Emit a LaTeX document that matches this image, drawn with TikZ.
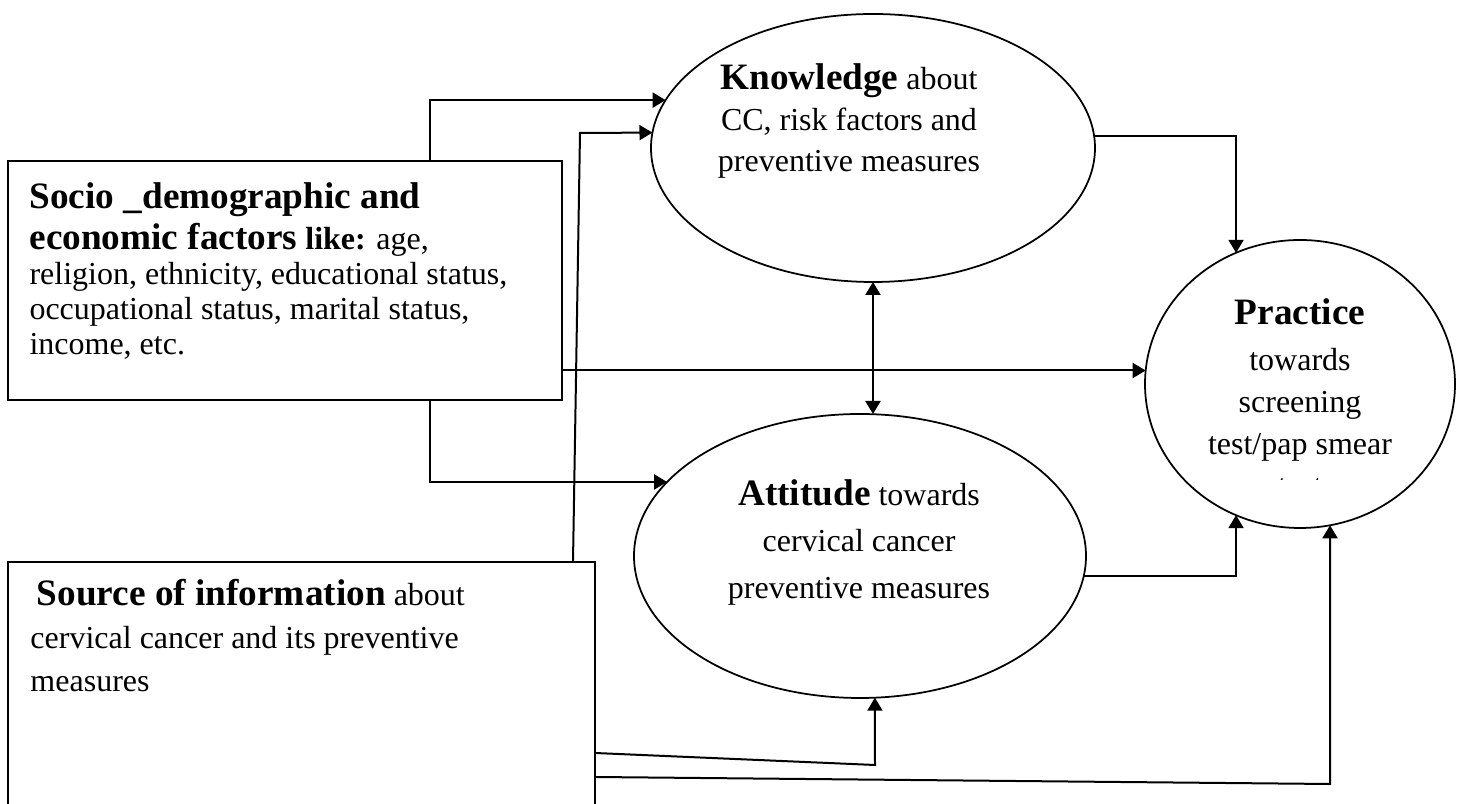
\documentclass[tikz,border=0pt]{standalone}
\usepackage{fontspec}
\setmainfont{Liberation Serif}
\usepackage{tikz}
\usetikzlibrary{shapes.geometric, arrows.meta, calc}
\newcommand\hd[1]{{\fontsize{14.9}{16}\selectfont\bfseries #1}}

\begin{document}
\begin{tikzpicture}[
  x=0.4pt, y=-0.4pt,
  oval/.style={ellipse, draw, line width=0.7pt, inner sep=0pt, outer sep=0pt},
  factor/.style={rectangle, draw, line width=0.8pt, inner sep=0pt, outer sep=0pt},
  txt/.style={font=\fontsize{12.8}{#1}\selectfont, inner sep=0pt},
  link/.style={-{Triangle[length=5.2pt, width=6pt]}, line width=0.8pt},
  twoway/.style={{Triangle[length=5.2pt, width=6pt]}-{Triangle[length=5.2pt, width=6pt]}, line width=0.8pt},
]
  \path[use as bounding box, clip] (0,0) rectangle (1462,804);

  % Factors
  \node[factor, minimum width=221.6pt, minimum height=95.6pt] (socio) at (285,280.5) {};
  \node[factor, minimum width=234.8pt, minimum height=107.2pt] (src) at (301.5,696) {};
  \node[txt=14, anchor=west, align=left] (socio text) at (29,271)
    {\hd{Socio \_demographic and}\\[2.4pt]
     \hd{economic factors} \textbf{like:} age,\\
     religion, ethnicity, educational status,\\
     occupational status, marital status,\\
     income, etc.};
  \node[txt=17.2, anchor=west, align=left] (src text) at (30,636)
    {\hspace*{2.5pt}\hd{Source of information} about\\
     cervical cancer and its preventive\\
     measures};

  % Outcomes
  \node[oval, minimum width=177.6pt, minimum height=107.2pt] (know) at (873,148) {};
  \node[oval, minimum width=180.8pt, minimum height=113.6pt] (att) at (860,556) {};
  \node[oval, minimum width=124pt, minimum height=115.2pt] (prac) at (1300,384) {};
  \node[txt=16.4, align=center] (know text) at (849,121)
    {\hd{Knowledge} about\\ CC, risk factors and\\ preventive measures};
  \node[txt=18.6, align=center] (att text) at (859,542)
    {\hd{Attitude} towards\\ cervical cancer\\ preventive measures};
  \node[txt=16.8, align=center] (prac text) at (1300,380)
    {\hd{Practice}\\[1.6pt] towards\\ screening\\ test/pap smear};
  \begin{scope}
    \clip (1150,440) rectangle (1450,480);
    \node[txt=16.8, anchor=base] (prac cut) at (1300,497) {test};
  \end{scope}

  % Bends
  \coordinate (srcbend) at (580,133);
  \coordinate (attbend) at (875,765);
  \coordinate (pracbend) at (1330,784);

  % Links
  \draw[link] ($(socio.north west)+(422,0)$) |- (know.167.6);
  \draw[link] ($(src.north west)+(565,0)$) -- (srcbend) -- (know.176.1);
  \draw[link] (know.3.9) -| (prac.116.9);
  \draw[twoway] (know.south) -- (know.south |- att.north);
  \draw[link] (socio.east |- prac.175.6) -- (prac.175.6);
  \draw[link] ($(socio.south west)+(422,0)$) |- (att.159.4);
  \draw[link] (att.-5.6) -| (prac.-116.9);
  \draw[link] ($(src.north east)+(0,191)$) -- (attbend) -- (att.-84);
  \draw[link] ($(src.north east)+(0,215)$) -- (pracbend) -- (prac.-78);
\end{tikzpicture}
\end{document}
